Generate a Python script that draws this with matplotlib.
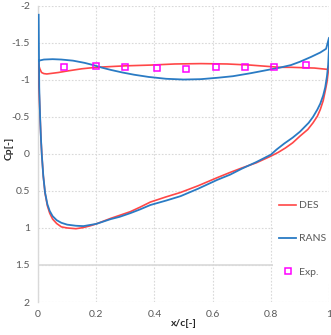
import matplotlib
matplotlib.use("Agg")
import matplotlib.pyplot as plt

# ---- data -----------------------------------------------------------------------
des_upper_x = [0.0, 0.006, 0.012, 0.02, 0.03, 0.04, 0.07, 0.1, 0.15, 0.2, 0.25, 0.3, 0.386,
               0.47, 0.56, 0.65, 0.73, 0.83, 0.87, 0.95, 1.0]
des_upper_cp = [-1.23, -1.15, -1.10, -1.085, -1.08, -1.085, -1.10, -1.12, -1.15, -1.17, -1.18,
                -1.19, -1.20, -1.215, -1.22, -1.215, -1.20, -1.17, -1.17, -1.16, -1.14]
des_lower_x = [1.0, 0.999, 0.997, 0.993, 0.987, 0.98, 0.97, 0.96, 0.945, 0.927, 0.9, 0.875,
               0.85, 0.825, 0.8, 0.75, 0.7, 0.66, 0.616, 0.55, 0.49, 0.44, 0.386, 0.35, 0.317,
               0.28, 0.25, 0.2, 0.18, 0.155, 0.13, 0.1, 0.08, 0.064, 0.05, 0.04, 0.032, 0.024,
               0.018, 0.013, 0.01, 0.007, 0.003, 0.0]
des_lower_cp = [-1.30, -1.20, -1.10, -0.97, -0.85, -0.72, -0.60, -0.51, -0.42, -0.33, -0.24,
                -0.15, -0.08, -0.02, 0.03, 0.12, 0.19, 0.25, 0.32, 0.43, 0.52, 0.58, 0.65, 0.72,
                0.78, 0.83, 0.87, 0.945, 0.97, 0.995, 1.01, 1.0, 0.985, 0.94, 0.88, 0.80, 0.70,
                0.53, 0.30, 0.02, -0.2, -0.5, -0.9, -1.23]

rans_upper_x = [0.003, 0.02, 0.05, 0.08, 0.12, 0.16, 0.19, 0.22, 0.25, 0.29, 0.33, 0.38, 0.44,
                0.5, 0.56, 0.62, 0.67, 0.73, 0.79, 0.83, 0.869, 0.9, 0.938, 0.97, 0.99, 1.0]
rans_upper_cp = [-1.26, -1.275, -1.28, -1.275, -1.26, -1.23, -1.20, -1.165, -1.135, -1.10, -1.07,
                 -1.04, -1.015, -1.005, -1.01, -1.03, -1.05, -1.09, -1.135, -1.165, -1.20, -1.245,
                 -1.31, -1.37, -1.42, -1.57]
rans_lower_x = [1.0, 0.9995, 0.997, 0.993, 0.987, 0.98, 0.97, 0.96, 0.945, 0.93, 0.915, 0.9,
                0.875, 0.846, 0.82, 0.8, 0.75, 0.7, 0.66, 0.616, 0.55, 0.49, 0.44, 0.386, 0.35,
                0.317, 0.28, 0.25, 0.2, 0.156, 0.13, 0.1, 0.08, 0.064, 0.05, 0.04, 0.032, 0.024,
                0.018, 0.013, 0.01, 0.007, 0.004, 0.002]
rans_lower_cp = [-1.57, -1.40, -1.20, -1.05, -0.90, -0.79, -0.68, -0.60, -0.50, -0.42, -0.36,
                 -0.30, -0.22, -0.14, -0.06, 0.01, 0.11, 0.20, 0.28, 0.35, 0.47, 0.57, 0.63, 0.69,
                 0.75, 0.80, 0.85, 0.88, 0.945, 0.975, 0.97, 0.955, 0.93, 0.895, 0.84, 0.77, 0.68,
                 0.52, 0.30, 0.02, -0.2, -0.5, -0.9, -1.88]

exp_x = [0.09, 0.2, 0.3, 0.41, 0.51, 0.61, 0.71, 0.81, 0.92]
exp_cp = [-1.18, -1.19, -1.17, -1.16, -1.145, -1.17, -1.175, -1.17, -1.20]

x_ticks = [0, 0.2, 0.4, 0.6, 0.8, 1]
y_ticks = [-2, -1.5, -1, -0.5, 0, 0.5, 1, 1.5, 2]

# ---- figure ---------------------------------------------------------------------
plt.rcParams['font.family'] = ['Lato', 'DejaVu Sans']
text_color = "#595959"
grid_color = "#d9d9d9"

fig = plt.figure(figsize=(3.31, 3.35), dpi=100)
ax = fig.add_axes([0.115, 0.0985, 0.879, 0.884])

ax.plot(des_upper_x + des_lower_x, des_upper_cp + des_lower_cp, color="#ff4747", lw=1.2,
        label="DES", zorder=3, solid_joinstyle="round")
ax.plot(rans_upper_x + rans_lower_x, rans_upper_cp + rans_lower_cp, color="#2a7bc4", lw=1.3,
        label="RANS", zorder=4, solid_joinstyle="round")
ax.plot(exp_x, exp_cp, ls="none", marker="s", ms=5, mfc="none", mec="#ff00ff", mew=1.1,
        label="Exp.", zorder=5)

ax.set_xlim(0, 1)
ax.set_ylim(2, -2)
ax.set_xticks(x_ticks)
ax.set_xticklabels(["0", "0.2", "0.4", "0.6", "0.8", "1"])
ax.set_yticks(y_ticks)
ax.set_yticklabels(["-2", "-1.5", "-1", "-0.5", "0", "0.5", "1", "1.5", "2"])
ax.tick_params(length=0, labelsize=7.5, labelcolor=text_color, pad=6)

ax.grid(True, color=grid_color, ls=(0, (1.5, 1.5)), lw=0.8)
ax.set_axisbelow(True)
for side in ["top", "right", "bottom"]:
    ax.spines[side].set_visible(False)
ax.spines["left"].set_color(grid_color)
ax.spines["left"].set_linewidth(1.0)
ax.axhline(1.5, color=grid_color, lw=1.2, zorder=1)

ax.set_xlabel("x/c[-]", fontsize=7.5, fontweight="bold", color="#262626", labelpad=0)
ax.set_ylabel("Cp[-]", fontsize=7.5, fontweight="bold", color="#262626", labelpad=2)
ax.yaxis.set_label_coords(-0.085, 0.52)

leg = ax.legend(loc="upper left", bbox_to_anchor=(0.79, 0.38), frameon=True, fancybox=False,
                edgecolor="none", facecolor="white", framealpha=1, fontsize=7.5,
                labelspacing=2.3, handlelength=1.6, handletextpad=0.3, borderpad=0.6)
for t in leg.get_texts():
    t.set_color(text_color)
leg.set_zorder(6)

fig.savefig("out.png", dpi=100)
